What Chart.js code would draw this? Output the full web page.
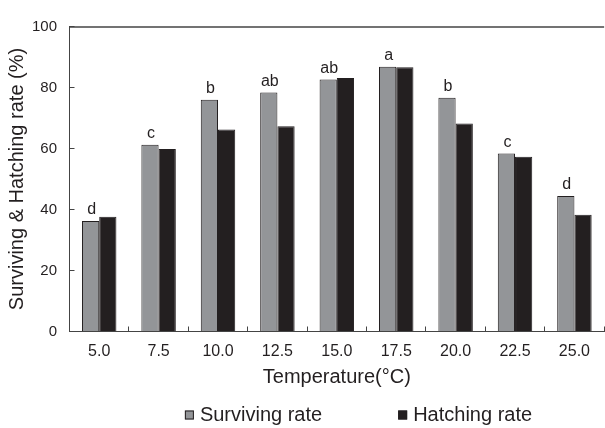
<!DOCTYPE html>
<html>
<head>
<meta charset="utf-8">
<script src="https://cdn.jsdelivr.net/npm/chart.js@4.4.1/dist/chart.umd.min.js"></script>
<style>
  html, body { margin: 0; padding: 0; background: #fff; overflow: hidden; }
  #wrap { width: 605px; height: 428px; }
</style>
</head>
<body>
<div id="wrap"><canvas id="c" width="605" height="428"></canvas></div>
<script>
const categories = ['5.0', '7.5', '10.0', '12.5', '15.0', '17.5', '20.0', '22.5', '25.0'];
const survivingRate = [36.2, 61.2, 76.0, 78.4, 82.6, 86.8, 76.6, 58.4, 44.4];
const hatchingRate = [37.6, 59.8, 66.2, 67.3, 83.1, 86.6, 68.2, 57.3, 38.3];
const significanceLetters = ['d', 'c', 'b', 'ab', 'ab', 'a', 'b', 'c', 'd'];
const seriesNames = ['Surviving rate', 'Hatching rate'];
const yTicks = [0, 20, 40, 60, 80, 100];

const FONT = '"Liberation Sans", Arial, Helvetica, sans-serif';
const INK = '#231f20';
const AXIS = '#444444';

const lettersPlugin = {
  id: 'letters',
  afterDatasetsDraw(chart) {
    const ctx = chart.ctx;
    const meta = chart.getDatasetMeta(0);
    ctx.save();
    ctx.font = '16px ' + FONT;
    ctx.fillStyle = INK;
    ctx.textAlign = 'center';
    ctx.textBaseline = 'bottom';
    meta.data.forEach((bar, i) => {
      ctx.fillText(significanceLetters[i], bar.x + 1, bar.y - 3);
    });
    ctx.restore();
  }
};

const framePlugin = {
  id: 'frame',
  afterDraw(chart) {
    const { ctx, chartArea } = chart;
    ctx.save();
    ctx.strokeStyle = AXIS;
    ctx.lineWidth = 1.3;
    ctx.beginPath();
    ctx.moveTo(chartArea.left, chartArea.top + 0.5);
    ctx.lineTo(chartArea.right, chartArea.top + 0.5);
    ctx.stroke();
    ctx.restore();
  }
};

const legendPlugin = {
  id: 'customLegend',
  afterDraw(chart) {
    const ctx = chart.ctx;
    ctx.save();
    ctx.font = '20px ' + FONT;
    ctx.textBaseline = 'middle';
    ctx.textAlign = 'left';
    const box = 9, gapBoxText = 6, gapItems = 76;
    const items = chart.data.datasets.map(ds => ({
      label: ds.label, fill: ds.backgroundColor, stroke: ds.borderColor,
      w: box + gapBoxText + ctx.measureText(ds.label).width
    }));
    const total = items.reduce((s, it) => s + it.w, 0) + gapItems * (items.length - 1);
    const cx = 358.5, cy = 415;
    let x = cx - total / 2;
    items.forEach(it => {
      ctx.fillStyle = it.fill;
      ctx.fillRect(x, cy - box / 2, box, box);
      ctx.strokeStyle = it.stroke;
      ctx.lineWidth = 1;
      ctx.strokeRect(x + 0.5, cy - box / 2 + 0.5, box - 1, box - 1);
      ctx.fillStyle = INK;
      ctx.fillText(it.label, x + box + gapBoxText, cy);
      x += it.w + gapItems;
    });
    ctx.restore();
  }
};

new Chart(document.getElementById('c'), {
  type: 'bar',
  data: {
    labels: categories,
    datasets: [
      {
        label: seriesNames[0],
        data: survivingRate,
        backgroundColor: '#939598',
        borderColor: INK,
        borderWidth: 1,
        categoryPercentage: 0.58,
        barPercentage: 1.0
      },
      {
        label: seriesNames[1],
        data: hatchingRate,
        backgroundColor: INK,
        borderColor: INK,
        borderWidth: 1,
        categoryPercentage: 0.58,
        barPercentage: 1.0
      }
    ]
  },
  options: {
    responsive: false,
    animation: false,
    devicePixelRatio: 1,
    layout: { padding: { top: 11, right: 0, bottom: 28, left: 0 } },
    plugins: {
      legend: { display: false },
      tooltip: { enabled: false }
    },
    scales: {
      x: {
        afterFit(s) { s.height = 68.5; },
        grid: {
          display: true,
          drawOnChartArea: false,
          drawTicks: true,
          tickLength: -5,
          color: AXIS,
          offset: true
        },
        border: { display: true, color: AXIS, width: 1 },
        ticks: {
          color: INK,
          font: { family: FONT, size: 16 },
          padding: 15,
          maxRotation: 0,
          autoSkip: false
        },
        title: {
          display: true,
          text: 'Temperature(°C)',
          color: INK,
          font: { family: FONT, size: 20 },
          padding: { top: 0, bottom: 11 }
        }
      },
      y: {
        min: 0,
        max: 100,
        afterFit(s) { s.width = 69.5; },
        afterBuildTicks(s) { s.ticks = yTicks.map(v => ({ value: v })); },
        grid: {
          display: true,
          drawOnChartArea: false,
          drawTicks: true,
          tickLength: -5,
          color: AXIS
        },
        border: { display: true, color: AXIS, width: 1 },
        ticks: {
          color: INK,
          font: { family: FONT, size: 15 },
          padding: 17.5
        },
        title: {
          display: true,
          text: 'Surviving & Hatching rate (%)',
          color: INK,
          font: { family: FONT, size: 20 },
          padding: { top: 5.5, bottom: 0 }
        }
      }
    }
  },
  plugins: [lettersPlugin, framePlugin, legendPlugin]
});
</script>
</body>
</html>
